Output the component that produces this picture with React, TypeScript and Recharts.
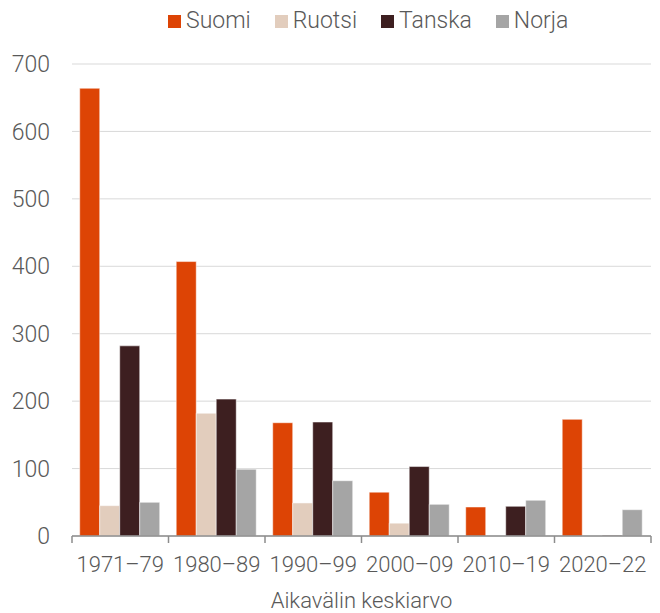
import React from "react";
import {
    BarChart,
    Bar,
    XAxis,
    YAxis,
    CartesianGrid,
    Legend,
    Label,
} from "recharts";

const categories = ["1971–79", "1980–89", "1990–99", "2000–09", "2010–19", "2020–22"];
const suomi = [664, 407, 168, 65, 43, 173];
const ruotsi = [45, 182, 49, 19, 0, 0];
const tanska = [282, 203, 169, 103, 44, 1];
const norja = [50, 99, 82, 47, 53, 39];
const yTicks = [0, 100, 200, 300, 400, 500, 600, 700];

const series = [
    { key: "Suomi", color: "#dd4405" },
    { key: "Ruotsi", color: "#e2cdbd" },
    { key: "Tanska", color: "#3d1f20" },
    { key: "Norja", color: "#a5a5a5" },
];

const data = categories.map((c, i) => ({
    name: c,
    Suomi: suomi[i],
    Ruotsi: ruotsi[i],
    Tanska: tanska[i],
    Norja: norja[i],
}));

const W = 660;
const H = 613;
const M = { top: 64, right: 9, bottom: 0, left: 0 };
const Y_W = 72;
const BAND = (W - M.left - M.right - Y_W) / categories.length;
const TEXT = "#595959";
const FONT = "Roboto, 'Noto Sans', sans-serif";
const FS = 22;

function XTick(props: any) {
    const { x, y, payload, index } = props;
    const left = x - BAND / 2;
    return (
        <g>
            <line x1={left} y1={y - 8} x2={left} y2={y - 1} stroke="#8c8c8c" strokeWidth={1.5} />
            {index === categories.length - 1 && (
                <line x1={x + BAND / 2} y1={y - 8} x2={x + BAND / 2} y2={y - 1} stroke="#8c8c8c" strokeWidth={1.5} />
            )}
            <text
                x={x}
                y={y + 28}
                textAnchor="middle"
                fill={TEXT}
                fontSize={FS}
                fontWeight={300}
                fontFamily={FONT}
            >
                {payload.value}
            </text>
        </g>
    );
}

function LegendBox() {
    return (
        <div
            style={{
                position: "absolute",
                left: 168,
                top: 8,
                display: "flex",
                alignItems: "center",
                whiteSpace: "nowrap",
                fontFamily: FONT,
                fontWeight: 300,
                fontSize: 23,
                color: TEXT,
                lineHeight: "26px",
            }}
        >
            {series.map((s) => (
                <div key={s.key} style={{ display: "flex", alignItems: "center", marginRight: 24 }}>
                    <span style={{ width: 13, height: 13, background: s.color, marginRight: 5, display: "inline-block" }} />
                    <span>{s.key}</span>
                </div>
            ))}
        </div>
    );
}

export default function App() {
    return (
        <div style={{ position: "absolute", left: 0, top: 0, width: W, height: H, background: "#fff" }}>
            <BarChart
                width={W}
                height={H}
                data={data}
                margin={M}
                barGap={0}
                barCategoryGap="8%"
            >
                <CartesianGrid vertical={false} stroke="#d9d9d9" />
                <XAxis
                    dataKey="name"
                    axisLine={{ stroke: "#8c8c8c", strokeWidth: 1.5 }}
                    tickLine={false}
                    tick={<XTick />}
                    interval={0}
                    height={77}
                >
                    <Label
                        value="Aikavälin keskiarvo"
                        position="insideBottom"
                        offset={5}
                        fill={TEXT}
                        fontSize={FS}
                        fontWeight={300}
                        fontFamily={FONT}
                    />
                </XAxis>
                <YAxis
                    width={Y_W}
                    domain={[0, 700]}
                    ticks={yTicks}
                    axisLine={false}
                    tickLine={false}
                    tickSize={0}
                    tickMargin={22}
                    tick={{ fill: TEXT, fontSize: 23, fontWeight: 300, fontFamily: FONT }}
                />
                <Legend
                    verticalAlign="top"
                    wrapperStyle={{ top: 0, left: 0, width: W, height: 0 }}
                    content={<LegendBox />}
                />
                {series.map((s) => (
                    <Bar
                        key={s.key}
                        dataKey={s.key}
                        fill={s.color}
                        stroke="#fff"
                        strokeWidth={0.5}
                        isAnimationActive={false}
                    />
                ))}
            </BarChart>
        </div>
    );
}
